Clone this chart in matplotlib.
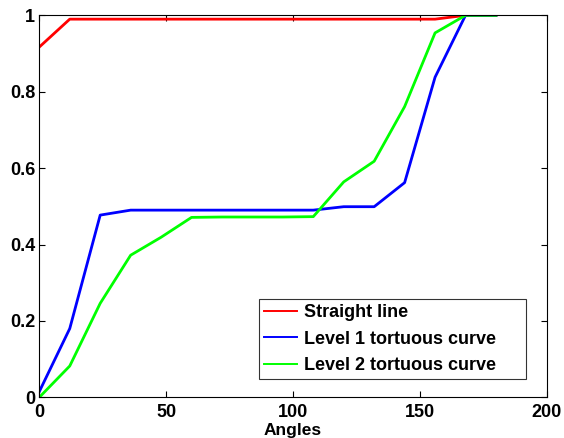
import matplotlib
matplotlib.use("Agg")
import matplotlib.pyplot as plt

angles = [0, 12, 24, 36, 48, 60, 72, 84, 96, 108, 120, 132, 144, 156, 168, 180]
straight = [0.917, 0.99, 0.99, 0.99, 0.99, 0.99, 0.99, 0.99, 0.99, 0.99, 0.99, 0.99, 0.99, 0.99, 1.0, 1.0]
level1 = [0.015, 0.18, 0.477, 0.49, 0.49, 0.49, 0.49, 0.49, 0.49, 0.49, 0.499, 0.499, 0.562, 0.838, 1.0, 1.0]
level2 = [0.0, 0.082, 0.246, 0.372, 0.419, 0.471, 0.472, 0.472, 0.472, 0.473, 0.564, 0.618, 0.761, 0.954, 1.0, 1.0]
labels = ["Straight line", "Level 1 tortuous curve", "Level 2 tortuous curve"]

plt.rcParams['font.family'] = ['Liberation Sans', 'DejaVu Sans']
plt.rcParams['font.weight'] = 'bold'

fig = plt.figure(figsize=(5.64, 4.38), dpi=100)
ax = fig.add_axes([0.0697, 0.0929, 0.8996, 0.8721])
ax.plot(angles, straight, color="#ff0000", lw=2.0, label=labels[0])
ax.plot(angles, level1, color="#0000ff", lw=2.0, label=labels[1])
ax.plot(angles, level2, color="#00ff00", lw=2.0, label=labels[2])

ax.set_xlim(0, 200)
ax.set_ylim(0, 1)
ax.set_xticks([0, 50, 100, 150, 200])
ax.set_yticks([0, 0.2, 0.4, 0.6, 0.8, 1])
ax.set_yticklabels(["0", "0.2", "0.4", "0.6", "0.8", "1"])
ax.tick_params(direction="in", top=True, right=True, length=4, width=0.8, labelsize=13)
ax.tick_params(axis="x", pad=5)
ax.tick_params(axis="y", pad=3)
for lab in ax.get_xticklabels() + ax.get_yticklabels():
    lab.set_fontweight("bold")
for s in ax.spines.values():
    s.set_linewidth(0.8)
ax.set_xlabel("Angles", fontsize=12.5, fontweight="bold", labelpad=1)

leg = ax.legend(loc="lower left", bbox_to_anchor=(0.433, 0.047, 0.526, 0.21), mode="expand",
                fontsize=13, frameon=True, fancybox=False, edgecolor="black",
                handlelength=1.8, borderaxespad=0, labelspacing=0.52,
                handletextpad=0.4, borderpad=0.3)
leg.get_frame().set_linewidth(0.8)
for t in leg.get_texts():
    t.set_fontweight("bold")
for h in leg.get_lines():
    h.set_linewidth(1.4)

fig.savefig("out.png", dpi=100)
